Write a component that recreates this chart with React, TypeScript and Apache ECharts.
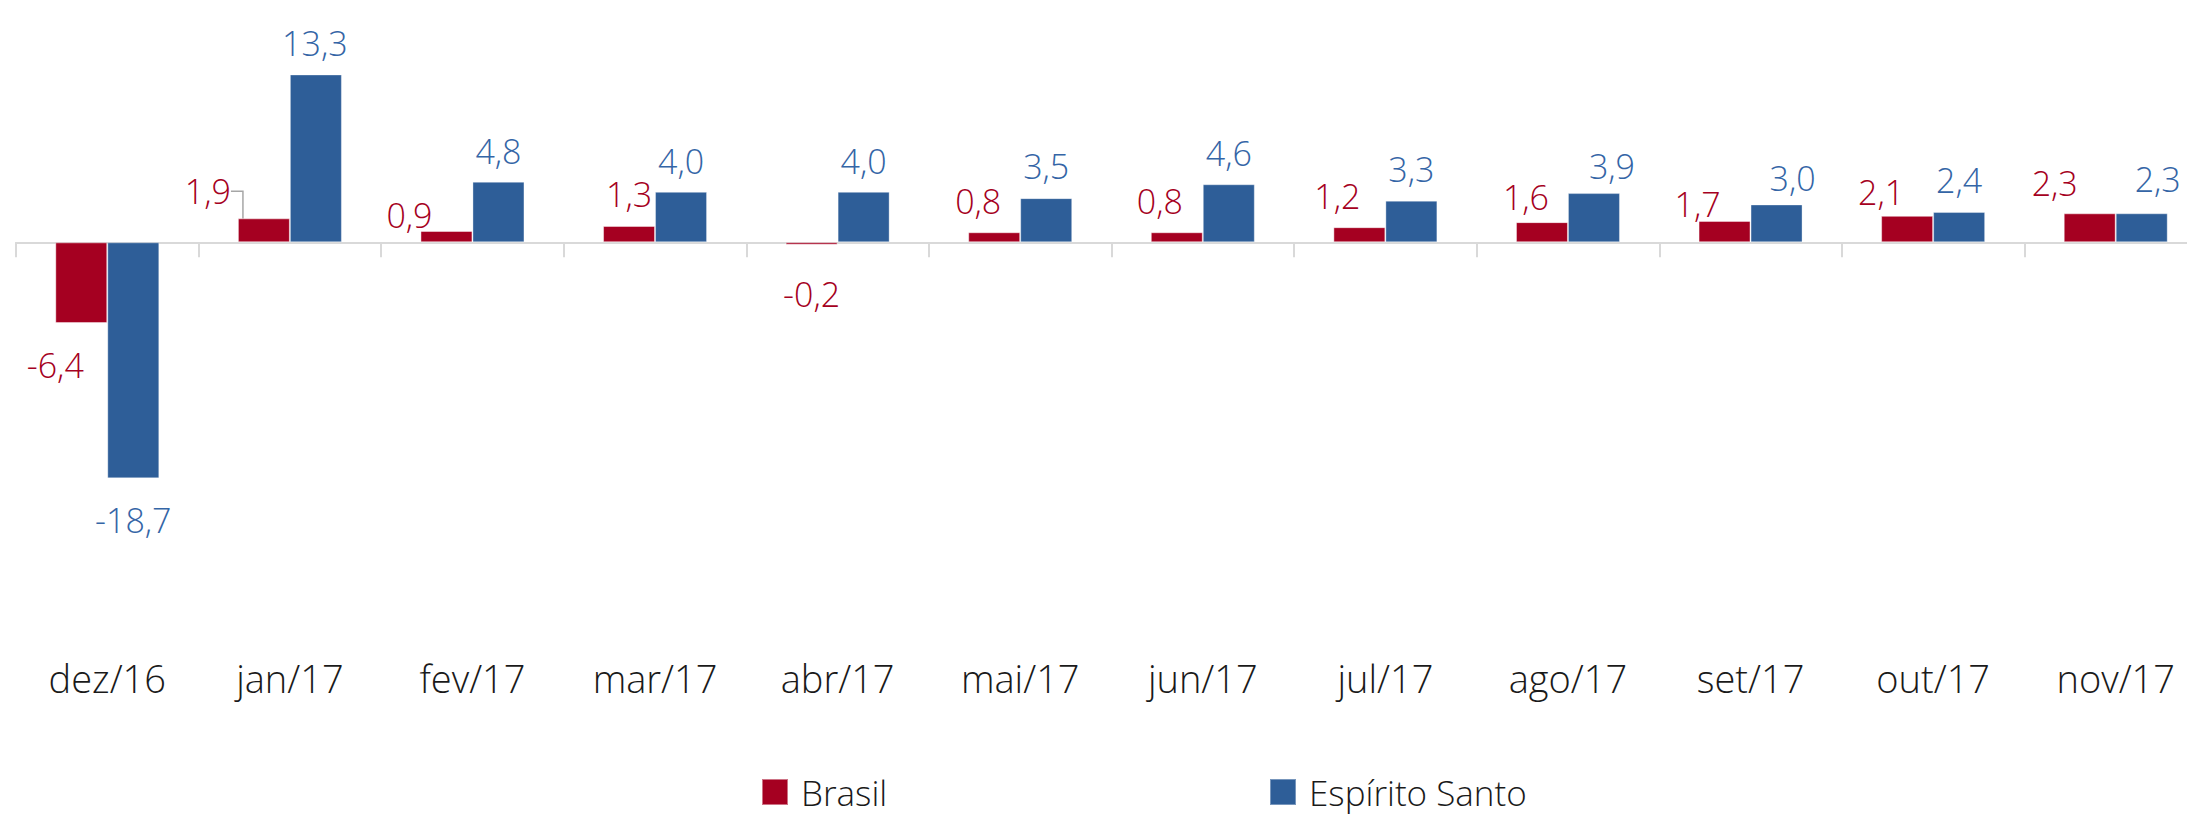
import React, { useEffect, useRef } from "react";
import * as echarts from "echarts";

const categories = ["dez/16", "jan/17", "fev/17", "mar/17", "abr/17", "mai/17", "jun/17", "jul/17", "ago/17", "set/17", "out/17", "nov/17"];
const brasil = [-6.4, 1.9, 0.9, 1.3, -0.2, 0.8, 0.8, 1.2, 1.6, 1.7, 2.1, 2.3];
const espiritoSanto = [-18.7, 13.3, 4.8, 4.0, 4.0, 3.5, 4.6, 3.3, 3.9, 3.0, 2.4, 2.3];

// label placement (px, relative to the bar end centre)
const brasilLabelDx = [-26, -56, -37, 0, 0, -16, -17, -22, -16, -27, -26, -35];
const brasilLabelDy = [40, -29, -18, -34, 47, -33, -33, -33, -27, -19, -26, -32];
const esLabelDx = [0, -1, 0, 0, 0, 0, 0, 0, 18, 16, 0, 16];
const esLabelDy = [40, -33, -33, -33, -33, -34, -33, -34, -29, -28, -34, -36];
const brasilLeaderIndex = 1;

const RED = "#A50021";
const BLUE = "#2E5E98";
const FONT = "'Open Sans', 'Noto Sans', sans-serif";

const fmt = (v: number) => v.toFixed(1).replace(".", ",");

function makeLayout(values: number[], dx: number[], dy: number[]) {
  return (params: any) => {
    const i = params.dataIndex;
    const r = params.rect;
    const endY = values[i] >= 0 ? r.y : r.y + r.height;
    return {
      x: r.x + r.width / 2 + dx[i],
      y: endY + dy[i] + 2,
      align: "center",
      verticalAlign: "middle",
    };
  };
}

export default function App() {
  const ref = useRef<HTMLDivElement>(null);
  useEffect(() => {
    if (!ref.current) return;
    const chart = echarts.init(ref.current, undefined, { renderer: "svg" });
    const legendText = {
      fontFamily: FONT,
      fontWeight: 300,
      fontSize: 35,
      lineHeight: 36,
      color: "#1a1a1a",
      padding: [0, 0, 0, 8],
    };
    const option: any = {
      animation: false,
      backgroundColor: "#ffffff",
      textStyle: { fontFamily: FONT },
      grid: { left: 16, top: 53, width: 2191, height: 568, containLabel: false, outerBoundsMode: "none" },
      legend: [
        {
          data: ["Brasil"],
          left: 761,
          top: 774,
          padding: 0,
          itemWidth: 26,
          itemHeight: 26,
          icon: "rect",
          selectedMode: false,
          textStyle: legendText,
        },
        {
          data: ["Espírito Santo"],
          left: 1269,
          top: 774,
          padding: 0,
          itemWidth: 26,
          itemHeight: 26,
          icon: "rect",
          selectedMode: false,
          textStyle: legendText,
        },
      ],
      xAxis: [
        {
          type: "category",
          data: categories,
          position: "bottom",
          axisLine: { onZero: true, lineStyle: { color: "#d9d9d9", width: 2 } },
          axisTick: { show: true, length: 15, lineStyle: { color: "#d9d9d9", width: 2 } },
          axisLabel: { show: false },
          splitLine: { show: false },
        },
        {
          type: "category",
          data: categories,
          position: "bottom",
          offset: 0,
          axisLine: { show: false, onZero: false },
          axisTick: { show: false },
          axisLabel: {
            margin: 38,
            fontFamily: FONT,
            fontWeight: 300,
            fontSize: 38,
            color: "#1a1a1a",
          },
          splitLine: { show: false },
        },
      ],
      yAxis: {
        type: "value",
        min: -30,
        max: 15,
        show: false,
        splitLine: { show: false },
      },
      series: [
        {
          name: "Brasil",
          type: "bar",
          barWidth: 52,
          barGap: "0%",
          itemStyle: { color: RED, borderColor: "rgba(255,255,255,0.45)", borderWidth: 1 },
          emphasis: { disabled: true },
          data: brasil.map((v, i) =>
            i === brasilLeaderIndex
              ? { value: v, labelLine: { show: true, length2: 12, lineStyle: { color: "#a6a6a6", width: 1.5 } } }
              : v
          ),
          label: {
            show: true,
            position: "outside",
            distance: 0,
            fontFamily: FONT,
            fontWeight: 300,
            fontSize: 34,
            color: RED,
            formatter: (p: any) => fmt(p.value),
          },
          labelLine: { show: false, length2: 12, lineStyle: { color: "#a6a6a6", width: 1.5 } },
          labelLayout: makeLayout(brasil, brasilLabelDx, brasilLabelDy),
        },
        {
          name: "Espírito Santo",
          type: "bar",
          barWidth: 52,
          barGap: "0%",
          itemStyle: { color: BLUE, borderColor: "rgba(255,255,255,0.35)", borderWidth: 1 },
          emphasis: { disabled: true },
          data: espiritoSanto,
          label: {
            show: true,
            position: "outside",
            distance: 0,
            fontFamily: FONT,
            fontWeight: 300,
            fontSize: 34,
            color: "#3465A6",
            formatter: (p: any) => fmt(p.value),
          },
          labelLayout: makeLayout(espiritoSanto, esLabelDx, esLabelDy),
        },
      ],
    };
    chart.setOption(option);
    return () => chart.dispose();
  }, []);
  return (
    <div
      ref={ref}
      style={{ position: "absolute", left: 0, top: 0, width: 2187, height: 817, background: "#fff" }}
    />
  );
}
